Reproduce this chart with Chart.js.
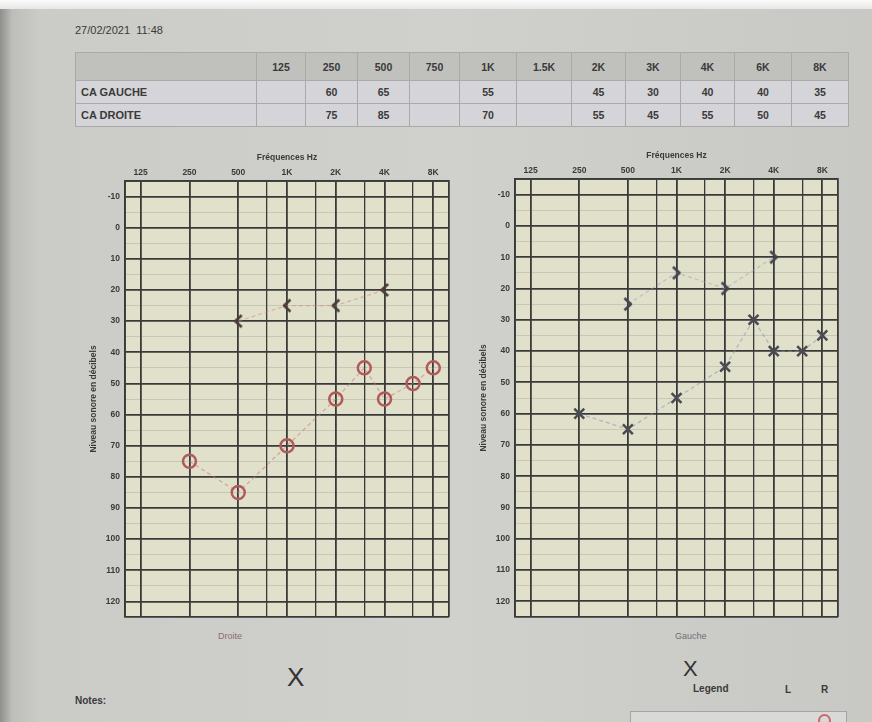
<!DOCTYPE html>
<html><head><meta charset="utf-8">
<script src="https://cdn.jsdelivr.net/npm/chart.js@4/dist/chart.umd.min.js"></script>
<style>
html,body{margin:0;padding:0;}
body{width:872px;height:722px;overflow:hidden;position:relative;font-family:"Liberation Sans",Arial,sans-serif;
background:linear-gradient(90deg,#8f8f8d 0px,#bdbdb9 12px,#cbcbc7 40px,#d0d0cc 450px,#c8c8c4 872px);}
#topstrip{position:absolute;left:0;top:0;width:872px;height:9px;background:linear-gradient(#fbfbfb,#e6e6e4);}
.txt{position:absolute;white-space:nowrap;color:#3a3a3a;}
#tbl{position:absolute;left:75px;top:52px;border-collapse:collapse;font-size:10.5px;font-weight:bold;color:#3a3a3a;}
#tbl td{border:1px solid #a9a9a7;text-align:center;padding:0;}
#tbl tr.h td{background:#c0c0bc;height:27px;}
#tbl tr.d td{background:#d5d4d8;height:22px;}
#tbl td.lab{text-align:left;padding-left:5px;font-size:11px;}
canvas{position:absolute;}
</style></head>
<body>
<div id="topstrip"></div>
<div class="txt" style="left:75px;top:24px;font-size:11px;">27/02/2021&nbsp;&nbsp;11:48</div>
<table id="tbl"></table>
<canvas id="c1" width="380" height="480" style="left:80px;top:150px"></canvas>
<canvas id="c2" width="380" height="482" style="left:470px;top:148px"></canvas>
<div class="txt" style="left:218px;top:631px;font-size:9px;color:#8a6e70;">Droite</div>
<div class="txt" style="left:675px;top:631px;font-size:9px;color:#6e6e78;">Gauche</div>
<div class="txt" style="left:287px;top:662px;font-size:26px;color:#333;">X</div>
<div class="txt" style="left:683px;top:656px;font-size:22px;color:#333;">X</div>
<div class="txt" style="left:75px;top:695px;font-size:10px;font-weight:bold;">Notes:</div>
<div class="txt" style="left:693px;top:683px;font-size:10px;font-weight:bold;">Legend</div>
<div class="txt" style="left:785px;top:684px;font-size:10px;font-weight:bold;">L</div>
<div class="txt" style="left:821px;top:684px;font-size:10px;font-weight:bold;">R</div>
<div style="position:absolute;left:630px;top:711px;width:215px;height:20px;border:1px solid #a4a4a2;background:#d9d9d7;"></div>
<div style="position:absolute;left:818px;top:714px;width:9px;height:9px;border:2px solid #c86a6a;border-radius:50%;"></div>
<script>
// ---- data ----
const freqLabels = ['125','250','500','750','1K','1.5K','2K','3K','4K','6K','8K'];
const freqHz     = [125,250,500,750,1000,1500,2000,3000,4000,6000,8000];
const octaveHz     = [125,250,500,1000,2000,4000,8000];
const octaveLabels = ['125','250','500','1K','2K','4K','8K'];
const dbTicks = [-10,0,10,20,30,40,50,60,70,80,90,100,110,120];
const caGauche  = [null,60,65,null,55,null,45,30,40,40,35];   // left ear, air (X)
const caDroite  = [null,75,85,null,70,null,55,45,55,50,45];   // right ear, air (O)
const coDroite  = [null,null,30,null,25,null,25,null,20,null,null]; // right ear, bone (<)
const coGauche  = [null,null,25,null,15,null,20,null,10,null,null]; // left ear, bone (>)
const rowLabels = ['CA GAUCHE','CA DROITE'];

// ---- table ----
const colW = [180,48,51,51,49,56,54,53,54,53,56,56];
const tbl = document.getElementById('tbl');
let html = '<tr class="h"><td style="width:'+colW[0]+'px"></td>' +
  freqLabels.map((l,i)=>'<td style="width:'+colW[i+1]+'px">'+l+'</td>').join('') + '</tr>';
[caGauche, caDroite].forEach((row,r)=>{
  html += '<tr class="d"><td class="lab">'+rowLabels[r]+'</td>' +
    row.map(v=>'<td>'+(v==null?'':v)+'</td>').join('') + '</tr>';
});
tbl.innerHTML = html;

// ---- charts ----
const pts = arr => freqHz.map((f,i)=>arr[i]==null?null:{x:f,y:arr[i]}).filter(Boolean);
function chevron(dir,color){
  const c=document.createElement('canvas'); c.width=12; c.height=16;
  const g=c.getContext('2d'); g.strokeStyle=color; g.lineWidth=2.6; g.lineJoin='round';
  g.beginPath();
  if(dir==='<'){g.moveTo(9.5,2);g.lineTo(3,8);g.lineTo(9.5,14);}
  else {g.moveTo(2.5,2);g.lineTo(9,8);g.lineTo(2.5,14);}
  g.stroke(); return c;
}
const bgPlugin={id:'bg',beforeDraw(ch){const a=ch.chartArea,g=ch.ctx;g.save();g.fillStyle='#e1e1cb';g.fillRect(a.left,a.top,a.right-a.left,a.bottom-a.top);g.restore();}};
const dark='#3a3a38';
function options(padR){
  return {
    responsive:false, animation:false, events:[],
    layout:{padding:{left:0,right:padR,top:0,bottom:13}},
    plugins:{legend:{display:false},tooltip:{enabled:false}},
    scales:{
      x:{type:'logarithmic',position:'top',min:100,max:10000,
        afterBuildTicks:s=>{s.ticks=[100,...freqHz,10000].map(v=>({value:v}));},
        afterFit:s=>{s.height=31;},
        ticks:{autoSkip:false,maxRotation:0,minRotation:0,padding:3,font:{size:8.5,weight:'bold'},color:'#3a3a3a',
          callback:v=>{const i=octaveHz.indexOf(v);return i>=0?octaveLabels[i]:'';}},
        grid:{drawTicks:false,color:dark,lineWidth:c=>(octaveHz.includes(c.tick.value)||c.tick.value===100||c.tick.value===10000)?1.8:1.3},
        border:{display:true,color:dark,width:1.8},
        title:{display:true,text:'Fréquences Hz',font:{size:8.5,weight:'bold'},color:'#3a3a3a',padding:{top:3,bottom:0}}
      },
      y:{type:'linear',reverse:true,min:-15,max:125,
        afterBuildTicks:s=>{const t=[];for(let v=-15;v<=125;v+=5)t.push({value:v});s.ticks=t;},
        afterFit:s=>{s.width=45;},
        ticks:{autoSkip:false,padding:5,font:{size:8.5,weight:'bold'},color:'#3a3a3a',
          callback:v=>dbTicks.includes(v)?String(v):''},
        grid:{drawTicks:false,
          color:c=>(c.tick.value%10===0||c.tick.value===-15||c.tick.value===125)?dark:'rgba(70,70,60,0.16)',
          lineWidth:c=>(c.tick.value%10===0||c.tick.value===-15||c.tick.value===125)?1.8:1},
        border:{display:true,color:dark,width:1.8},
        title:{display:true,text:'Niveau sonore en décibels',font:{size:8.5,weight:'bold'},color:'#3a3a3a',padding:{top:9,bottom:2}}
      }
    }
  };
}
new Chart(document.getElementById('c1'),{
  type:'scatter',
  data:{datasets:[
    {data:pts(coDroite),showLine:true,borderColor:'rgba(205,130,130,0.5)',borderWidth:1.2,borderDash:[4,3],
      pointStyle:chevron('<','#4d3b3b'),pointRadius:7},
    {data:pts(caDroite),showLine:true,borderColor:'rgba(200,120,120,0.55)',borderWidth:1.3,borderDash:[4,3],
      pointStyle:'circle',pointRadius:6.5,pointBorderWidth:2.5,pointBorderColor:'#b05a5a',pointBackgroundColor:'rgba(0,0,0,0)'}
  ]},
  options:options(11),plugins:[bgPlugin]
});
new Chart(document.getElementById('c2'),{
  type:'scatter',
  data:{datasets:[
    {data:pts(coGauche),showLine:true,borderColor:'rgba(150,155,190,0.5)',borderWidth:1.2,borderDash:[4,3],
      pointStyle:chevron('>','#45454f'),pointRadius:7},
    {data:pts(caGauche),showLine:true,borderColor:'rgba(140,145,175,0.55)',borderWidth:1.3,borderDash:[4,3],
      pointStyle:'crossRot',pointRadius:7,pointBorderWidth:2.5,pointBorderColor:'#4a4a52'}
  ]},
  options:options(12),plugins:[bgPlugin]
});
</script>
</body></html>
